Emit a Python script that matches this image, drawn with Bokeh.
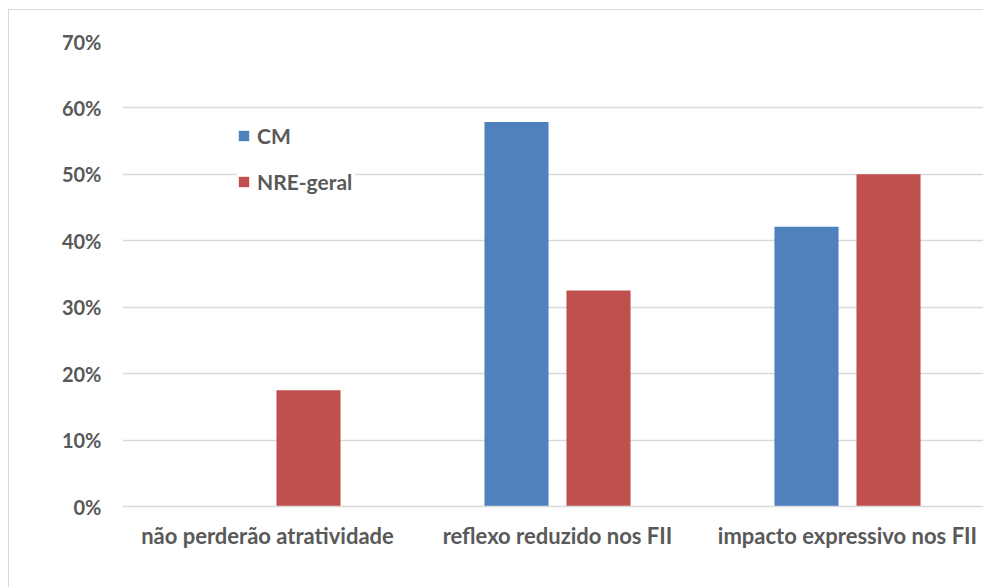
from bokeh.plotting import figure
from bokeh.models import (ColumnDataSource, Range1d, FixedTicker, NumeralTickFormatter,
                          Legend, LegendItem)
from bokeh.transform import dodge
from bokeh.embed import file_html
from bokeh.resources import INLINE

# Survey answers: share of respondents per group
categories = ["não perderão atratividade", "reflexo reduzido nos FII", "impacto expressivo nos FII"]
cm = [0.0, 0.579, 0.421]
nre_geral = [0.175, 0.325, 0.50]
series_names = ["CM", "NRE-geral"]
y_ticks = [0.0, 0.1, 0.2, 0.3, 0.4, 0.5, 0.6, 0.7]

FONT = "Lato"
TEXT = "#595959"
GRID = "#D9D9D9"
BLUE = "#4F81BD"
RED = "#C0504D"

positions = list(range(len(categories)))
src = ColumnDataSource(dict(x=positions, cm=cm, nre=nre_geral))

p = figure(width=975, height=578,
           x_range=Range1d(-0.5, 2.4724), y_range=Range1d(0, 0.7),
           output_backend="svg", toolbar_location=None,
           min_border_left=113, min_border_top=31,
           min_border_right=0, min_border_bottom=82)
p.styles = {"margin-left": "8px", "margin-top": "9px",
            "border-left": f"1px solid {GRID}", "border-top": f"1px solid {GRID}"}
p.outline_line_color = None
p.background_fill_color = "white"
p.border_fill_color = "white"

r_cm = p.vbar(x=dodge("x", -0.1414), top="cm", width=0.221, source=src,
              fill_color=BLUE, line_color=None)
r_nre = p.vbar(x=dodge("x", 0.1414), top="nre", width=0.221, source=src,
               fill_color=RED, line_color=None)

# y axis: percent labels, no line or ticks
p.yaxis.ticker = FixedTicker(ticks=y_ticks)
p.yaxis.formatter = NumeralTickFormatter(format="0%")
p.yaxis.axis_line_color = None
p.yaxis.major_tick_line_color = None
p.yaxis.minor_tick_line_color = None
p.yaxis.major_label_standoff = 15
p.yaxis.major_label_text_font = FONT
p.yaxis.major_label_text_font_style = "bold"
p.yaxis.major_label_text_font_size = "20px"
p.yaxis.major_label_text_color = TEXT

# x axis: category names under each group
p.xaxis.ticker = FixedTicker(ticks=positions)
p.xaxis.major_label_overrides = {i: c for i, c in zip(positions, categories)}
p.xaxis.axis_line_color = GRID
p.xaxis.axis_line_width = 1.3
p.xaxis.major_tick_line_color = None
p.xaxis.minor_tick_line_color = None
p.xaxis.major_label_standoff = 9
p.xaxis.major_label_text_font = FONT
p.xaxis.major_label_text_font_style = "bold"
p.xaxis.major_label_text_font_size = "22px"
p.xaxis.major_label_text_color = TEXT

p.xgrid.visible = False
p.ygrid.ticker = FixedTicker(ticks=y_ticks)
p.ygrid.grid_line_color = GRID
p.ygrid.grid_line_width = 1.3

legend = Legend(items=[LegendItem(label=series_names[0], renderers=[r_cm]),
                       LegendItem(label=series_names[1], renderers=[r_nre])],
                location=(115, 312),
                padding=10, margin=0, spacing=20,
                glyph_width=13, glyph_height=13, label_height=26, label_width=98,
                label_standoff=7,
                label_text_font=FONT, label_text_font_style="bold",
                label_text_font_size="21px", label_text_color=TEXT,
                background_fill_color="white", background_fill_alpha=1.0,
                border_line_color=None)
p.add_layout(legend)

open("out.html", "w").write(file_html(p, INLINE))
